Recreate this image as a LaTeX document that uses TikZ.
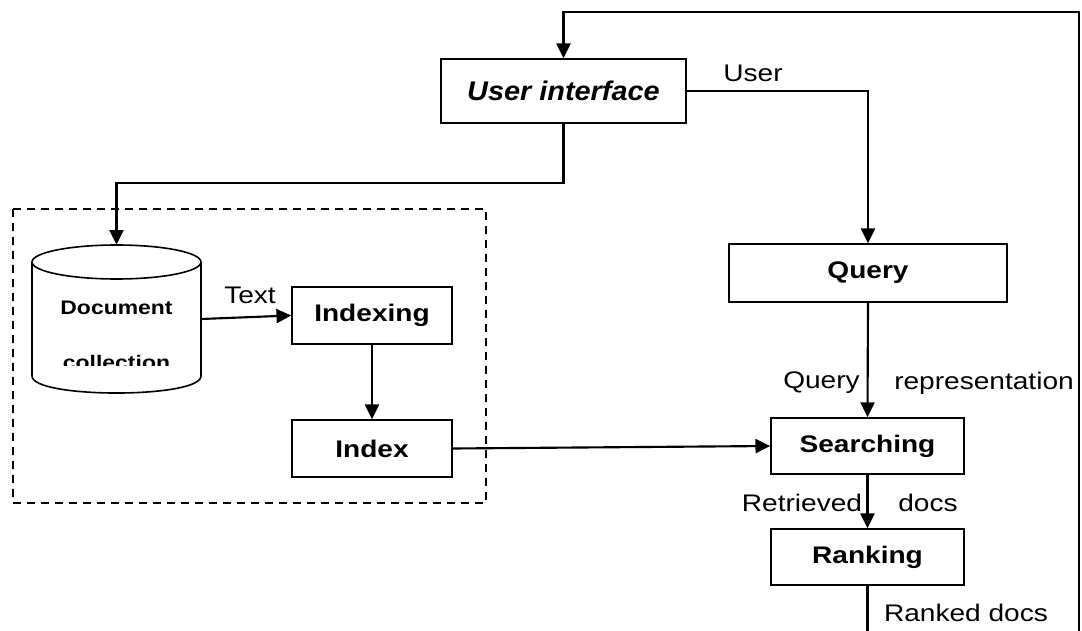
\documentclass[tikz,border=0pt]{standalone}
\usepackage{fontspec}
\setmainfont{Liberation Sans}
\newfontfamily\stretchfont[FakeStretch=1.17]{Liberation Sans}
\newfontfamily\uifont[FakeStretch=1.07]{Liberation Sans}
\usetikzlibrary{arrows.meta}
\tikzset{
  boxnode/.style={draw, line width=1.3pt, inner sep=0pt, font=\stretchfont\bfseries\fontsize{18}{20}\selectfont},
  conn/.style={line width=1.6pt, -{Triangle[length=11pt,width=10.5pt]}},
  plainline/.style={line width=1.6pt},
  lbl/.style={inner sep=0pt, font=\stretchfont\fontsize{18}{20}\selectfont},
  doclbl/.style={inner sep=0pt, font=\stretchfont\bfseries\fontsize{14.7}{16}\selectfont},
  cyl/.style={line width=1.2pt},
  group/.style={line width=1.6pt, dash pattern=on 6pt off 4.5pt}
}
\begin{document}
\begin{tikzpicture}[x=0.75pt, y=-0.75pt]
\useasboundingbox (0,0) rectangle (1082,631);

% dashed group
\draw[group] (13,209) rectangle (486,503);

% nodes (sizes in pt = px * 0.75)
\node[boxnode, minimum width=183.75pt, minimum height=48pt, font=\uifont\bfseries\itshape\fontsize{20.25}{22}\selectfont] (ui) at (563.5,91) {User interface};
\node[boxnode, minimum width=208.5pt, minimum height=43.5pt] (query) at (868,273) {Query};
\node[boxnode, minimum width=144.75pt, minimum height=42pt] (search) at (867.5,446) {Searching};
\node[boxnode, minimum width=144.75pt, minimum height=42pt] (rank) at (867.5,557) {Ranking};
\node[boxnode, minimum width=120pt, minimum height=42.75pt] (indexing) at (372,315.5) {Indexing};
\node[boxnode, minimum width=120pt, minimum height=42.75pt] (index) at (372,448.5) {Index};

% document collection (cylinder)
\node[minimum width=126.75pt, minimum height=111pt, inner sep=0pt] (doc) at (116.5,319) {};
\draw[cyl] (116.5,262) ellipse [x radius=84.5, y radius=17];
\draw[cyl] (32,262) -- (32,376) .. controls (32,398.7) and (201,398.7) .. (201,376) -- (201,262);
\node[doclbl, anchor=base] (docw) at (116.5,314) {Document};
\begin{scope}
  \clip (32,280) rectangle (201,365);
  \node[doclbl, anchor=base] (coll) at (116.5,369) {collection};
\end{scope}

% free-end coordinates
\coordinate (fbL) at (867.5,631);
\coordinate (fbR) at (1079,631);
\coordinate (fbtop) at (1079,12);
\coordinate (uiturn) at (0,183);

% connectors
\draw[plainline] (rank.south) -- (fbL);
\draw[conn] (fbR) -- (fbtop) -| (ui.north);
\draw[conn] (ui.east) -| (query.north);
\draw[conn] (ui.south) -- (ui.south |- uiturn) -| (doc.north);
\draw[conn] (doc.east) -- (indexing.west);
\draw[conn] (indexing.south) -- (index.north);
\draw[conn] (index.east) -- (search.west);
\draw[conn] (query.south) -- (search.north);
\draw[conn] (search.south) -- (rank.north);

% labels
\node[lbl] (tText) at (250,295) {Text};
\node[lbl] (tUser) at (753,73) {User};
\node[lbl] (tQuery) at (821.5,383) {Query};
\node[lbl] (tRep) at (984,383) {representation};
\node[lbl] (tRet) at (802,503) {Retrieved};
\node[lbl] (tDocs) at (928,503) {docs};
\node[lbl] (tRanked) at (966,613) {Ranked docs};
\end{tikzpicture}
\end{document}
